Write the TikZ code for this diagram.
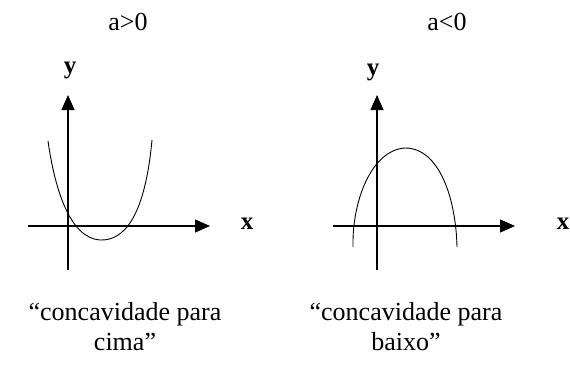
\documentclass[tikz,border=0pt]{standalone}
\usepackage{fontspec}
\setmainfont{Liberation Serif}
\usetikzlibrary{arrows.meta}
\begin{document}
\begin{tikzpicture}[x=1pt,y=-1pt,
  axis/.style={line width=1.1pt,-{Triangle[length=15pt,width=13pt]}},
  curve/.style={line width=0.9pt},
  lbl/.style={font=\fontsize{26}{30}\selectfont,inner sep=0pt},
  axlbl/.style={font=\fontsize{25}{29}\selectfont\bfseries,inner sep=0pt},
  captext/.style={font=\fontsize{26}{30}\selectfont,align=center,inner sep=0pt}]
\useasboundingbox (0,0) rectangle (570,367);
% left
\node[lbl] (t1) at (128,22) {a>0};
\coordinate (lxa) at (28,226); \coordinate (lxb) at (210,226);
\coordinate (lya) at (68,270); \coordinate (lyb) at (68,95);
\draw[axis] (lxa) -- (lxb);
\draw[axis] (lya) -- (lyb);
\node[axlbl] (ly) at (70,70) {y};
\node[axlbl] (lx) at (247,224) {x};
\coordinate (l0) at (48,141); \coordinate (lv) at (100,240); \coordinate (l1) at (152,140);
\draw[curve] (l0) .. controls (55,190) and (70,238) .. (lv) .. controls (125,241) and (145,215) .. (l1);
\node[captext] (c1) at (125,327) {“concavidade para\\cima”};
% right
\node[lbl] (t2) at (447,22) {a<0};
\coordinate (rxa) at (333,226); \coordinate (rxb) at (515,226);
\coordinate (rya) at (377,270); \coordinate (ryb) at (377,95);
\draw[axis] (rxa) -- (rxb);
\draw[axis] (rya) -- (ryb);
\node[axlbl] (ry) at (373,72) {y};
\node[axlbl] (rx) at (563,224) {x};
\coordinate (r0) at (353,247); \coordinate (rv) at (405,148); \coordinate (r1) at (457,247);
\draw[curve] (r0) .. controls (352,200) and (372,150) .. (rv) .. controls (440,148) and (456,200) .. (r1);
\node[captext] (c2) at (406,327) {“concavidade para\\baixo”};
\end{tikzpicture}
\end{document}
